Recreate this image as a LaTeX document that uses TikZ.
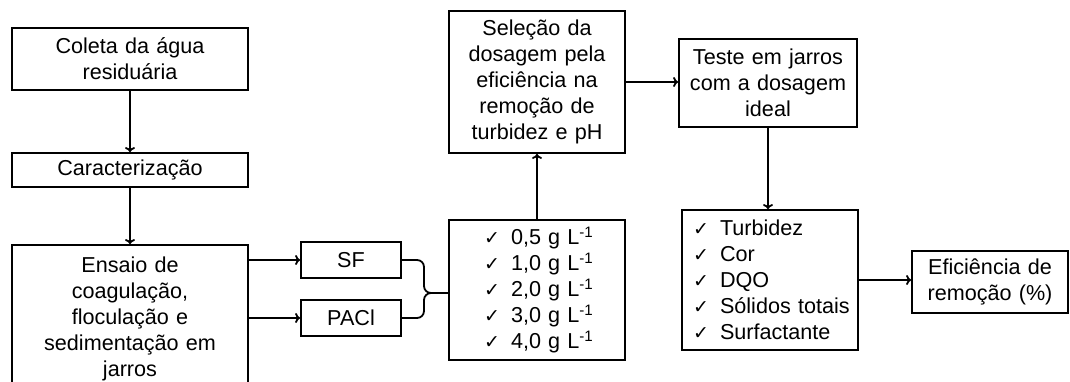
\documentclass[tikz,border=0pt]{standalone}
\usepackage{fontspec}
\setmainfont{Liberation Sans}
\newfontfamily\dejavu{DejaVu Sans}
\usepackage{tikz}
\usetikzlibrary{arrows.meta}

\newcommand{\chk}{\makebox[27pt][l]{\dejavu\fontsize{19}{19}\selectfont ✓}}
\newcommand{\gl}{g L\textsuperscript{-1}}

\begin{document}
\begin{tikzpicture}[x=1pt,y=-1pt,line width=1.8pt,
  >={To[length=5pt,width=10pt]},
  every node/.style={inner sep=0pt,font=\fontsize{21.6}{26}\selectfont},
  box/.style={draw,align=center}]
\path[use as bounding box] (0,0) rectangle (1070,381);
\clip (0,0) rectangle (1070,381);
% left column
\node [box,text width=236pt,minimum height=62pt] (coleta) at (130,59) {Coleta da água\\residuária};
\node [box,text width=236pt,minimum height=34pt] (carac) at (130,170) {Caracterização};
\node [box,text width=236pt,minimum height=148pt] (ensaio) at (130,319) {Ensaio de\\coagulação,\\floculação e\\sedimentação em\\jarros};
\draw [->] (coleta) -- (carac);
\draw [->] (carac) -- (ensaio);
% coagulants
\node [box,text width=100pt,minimum height=36pt] (sf) at (351,260) {SF};
\node [box,text width=100pt,minimum height=36pt] (pacl) at (351,318) {PACl};
\draw [->] (sf.west -| ensaio.east) -- (sf.west);
\draw [->] (pacl.west -| ensaio.east) -- (pacl.west);
% doses
\node [box,align=left,text width=176pt,minimum height=140pt] (doses) at (537,290)
  {\hspace*{35pt}\chk 0,5 \gl\\\hspace*{35pt}\chk 1,0 \gl\\\hspace*{35pt}\chk 2,0 \gl\\\hspace*{35pt}\chk 3,0 \gl\\\hspace*{35pt}\chk 4,0 \gl};
\draw [rounded corners=7pt] (sf.east) -- (424,260) -- (424,293) -- (doses.west |- 0,293);
\draw [rounded corners=7pt] (pacl.east) -- (424,318) -- (424,293) -- (doses.west |- 0,293);
\node [box,text width=176pt,minimum height=142pt] (selecao) at (537,82) {Seleção da\\dosagem pela\\eficiência na\\remoção de\\turbidez e pH};
\draw [->] (doses) -- (selecao);
% jar test
\node [box,text width=178pt,minimum height=88pt] (teste) at (768,83) {Teste em jarros\\com a dosagem\\ideal};
\draw [->] (selecao.east) -- (selecao.east -| teste.west);
\node [box,align=left,text width=176pt,minimum height=140pt] (params) at (770,280)
  {\hspace*{11pt}\chk Turbidez\\\hspace*{11pt}\chk Cor\\\hspace*{11pt}\chk DQO\\\hspace*{11pt}\chk Sólidos totais\\\hspace*{11pt}\chk Surfactante};
\draw [->] (teste.south) -- (teste.south |- params.north);
\node [box,text width=156pt,minimum height=62pt] (efic) at (990,282) {Eficiência de\\remoção (\%)};
\draw [->] (params.east) -- (params.east -| efic.west);
\end{tikzpicture}
\end{document}
